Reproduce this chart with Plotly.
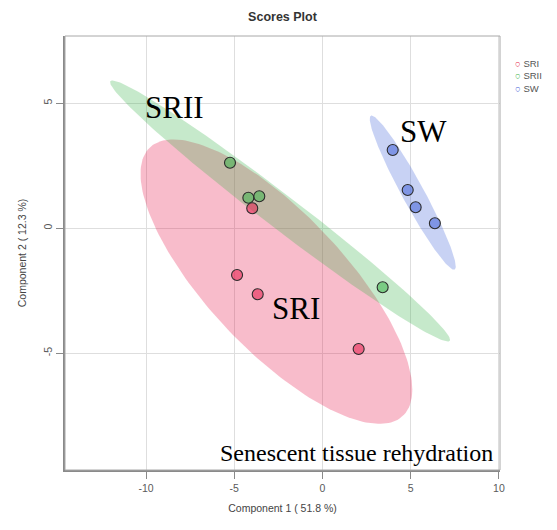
import numpy as np
import plotly.graph_objects as go

# PCA scores (component 1, component 2) per group
groups = ["SRI", "SRII", "SW"]
pc1_sri = [-3.98, -4.84, -3.67, 2.05]
pc2_sri = [0.80, -1.87, -2.64, -4.83]
pc1_srii = [-5.24, -4.20, -3.58, 3.41]
pc2_srii = [2.62, 1.22, 1.28, -2.36]
pc1_sw = [3.98, 4.83, 5.28, 6.37]
pc2_sw = [3.13, 1.53, 0.84, 0.20]

x_ticks = [-10, -5, 0, 5, 10]
y_ticks = [-5, 0, 5]
x_title = "Component 1 ( 51.8 %)"
y_title = "Component 2 ( 12.3 %)"
note = "Senescent tissue rehydration"

group_colors = ["#e6194B", "#3cb44b", "#4363d8"]
scores = [(pc1_sri, pc2_sri), (pc1_srii, pc2_srii), (pc1_sw, pc2_sw)]


def rgba(hex_color, alpha):
    h = hex_color.lstrip("#")
    r, g, b = (int(h[i:i + 2], 16) for i in (0, 2, 4))
    return f"rgba({r},{g},{b},{alpha})"


def confidence_ellipse(x, y, level=0.95, n=200):
    """95% normal-theory ellipse around the group scores."""
    pts = np.column_stack([x, y])
    mu = pts.mean(axis=0)
    cov = np.cov(pts.T)
    radius = np.sqrt(-2.0 * np.log(1.0 - level))  # chi-square, 2 df
    chol = np.linalg.cholesky(cov)
    t = np.linspace(0, 2 * np.pi, n)
    circle = np.vstack([np.cos(t), np.sin(t)])
    ell = mu[:, None] + radius * chol @ circle
    return ell[0], ell[1]


fig = go.Figure()

# Shaded ellipses first, then points on top
for name, (px, py), col in zip(groups, scores, group_colors):
    ex, ey = confidence_ellipse(px, py)
    fig.add_trace(go.Scatter(
        x=ex, y=ey, mode="lines", fill="toself",
        fillcolor=rgba(col, 0.29), line=dict(width=0),
        hoverinfo="skip", showlegend=False,
    ))

for name, (px, py), col in zip(groups, scores, group_colors):
    fig.add_trace(go.Scatter(
        x=px, y=py, mode="markers", name=name, showlegend=False,
        marker=dict(size=11, color=rgba(col, 0.55),
                    line=dict(color="#2b2b2b", width=1.1)),
    ))

tick_color = "#5a5a5a"
axis_common = dict(
    showgrid=True, gridcolor="#dedede", gridwidth=1,
    zeroline=False, showline=True, linecolor="#8a8a8a", linewidth=1.8,
    ticks="outside", ticklen=7, tickcolor="#8a8a8a", tickwidth=1.4,
    tickfont=dict(family="Liberation Sans", size=10.5, color=tick_color),
    title_font=dict(family="Liberation Sans", size=10.5, color="#444444"),
)

fig.update_xaxes(range=[-14.59, 10.06], tickvals=x_ticks,
                 ticktext=[str(v) for v in x_ticks],
                 title_text=x_title, title_standoff=12, **axis_common)
fig.update_yaxes(range=[-9.67, 7.69], tickvals=y_ticks,
                 ticktext=[str(v) for v in y_ticks], tickangle=-90,
                 title_text=y_title, title_standoff=13, **axis_common)

# Legend built from coloured ring glyphs
legend_lines = [f'<span style="color:{c}">○</span> {g}'
                for g, c in zip(groups, group_colors)]
fig.add_annotation(
    text="<br>".join(legend_lines), xref="paper", yref="paper",
    x=1.03, y=0.955, xanchor="left", yanchor="top", showarrow=False,
    align="left", font=dict(family="Liberation Sans", size=9.5, color="#555555"),
)

# Group labels and panel note
serif = dict(family="Liberation Serif", color="black")
for label, lx, ly in [("SRII", -8.39, 4.83), ("SW", 5.75, 3.87), ("SRI", -1.50, -3.19)]:
    fig.add_annotation(text=label, x=lx, y=ly, xanchor="center", yanchor="middle",
                       showarrow=False, font=dict(size=31, **serif))
fig.add_annotation(text=note, x=1.92, y=-8.97, xanchor="center", yanchor="middle",
                   showarrow=False, font=dict(size=24, **serif))

# Thin frame around the plotting region
fig.add_shape(type="rect", xref="paper", yref="paper", x0=0, y0=0, x1=1, y1=1,
              line=dict(color="#a8a8a8", width=1), layer="above")

fig.update_layout(
    template="none",
    width=557, height=530,
    margin=dict(l=65, r=57, t=36, b=60),
    paper_bgcolor="white", plot_bgcolor="white",
    font=dict(family="Liberation Sans", color=tick_color),
    title=dict(text="<b>Scores Plot</b>", x=0.5, xref="paper",
               y=1 - 17 / 530, yref="container", yanchor="middle",
               font=dict(family="Liberation Sans", size=12.5, color="#333333")),
    showlegend=False,
)

fig.write_html("out.html")
